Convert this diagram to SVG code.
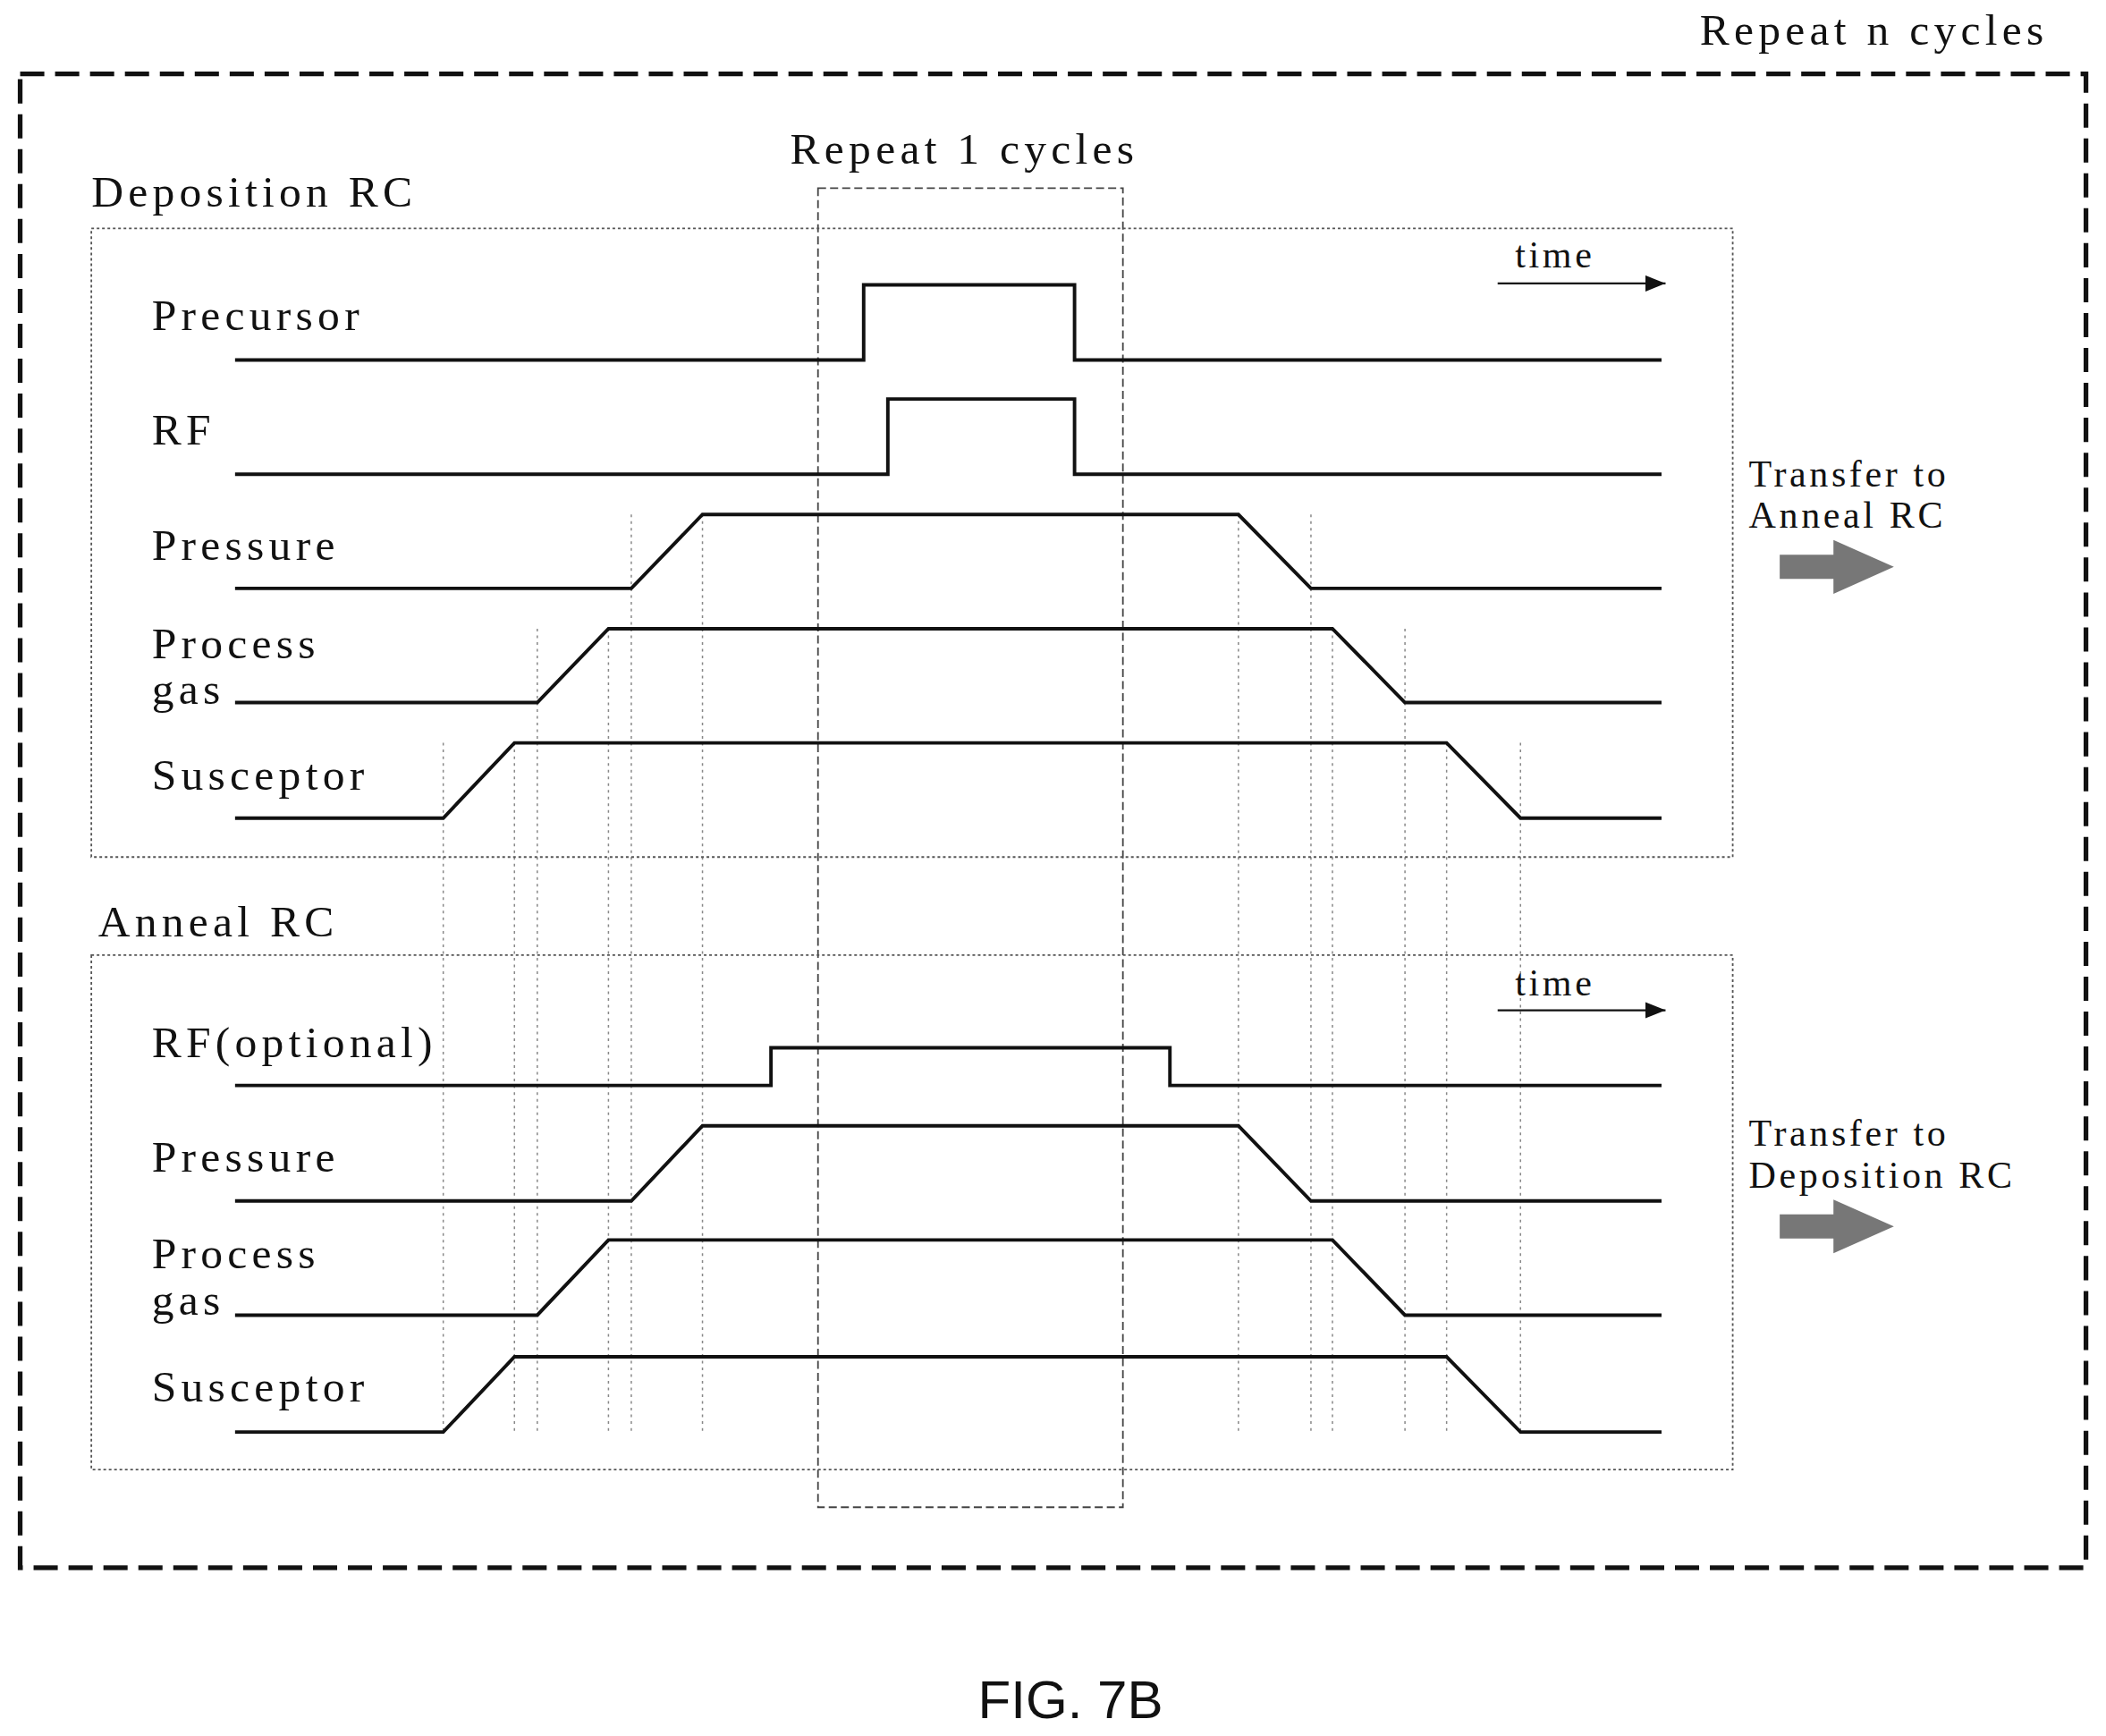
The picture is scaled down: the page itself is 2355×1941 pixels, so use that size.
<svg xmlns="http://www.w3.org/2000/svg" width="2355" height="1941" viewBox="0 0 2355 1941">
<style>
text{font-family:"Liberation Serif",serif;font-size:33px;letter-spacing:3.5px;fill:#111}
.sm{font-size:28px;letter-spacing:2.4px}
.sig{fill:none;stroke:#111;stroke-width:2.6}
.vd{stroke:#888;stroke-width:1;stroke-dasharray:2 3}
.box{fill:none;stroke:#555;stroke-width:1.2;stroke-dasharray:2 2}
</style>
<defs><marker id="ah" markerWidth="10" markerHeight="8" refX="10" refY="4" orient="auto"><path d="M0,0L10,4L0,8z" fill="#111"/></marker></defs>
<rect width="2355" height="1941" fill="#fff"/>
<g transform="scale(1.502)">
<rect x="15" y="55" width="1538" height="1112" fill="none" stroke="#111" stroke-width="3.5" stroke-dasharray="18 8"/>
<text x="1525" y="33" text-anchor="end">Repeat n cycles</text>
<g id="repeat1"><rect x="609" y="140" width="227" height="982" fill="none" stroke="#444" stroke-width="1.2" stroke-dasharray="6 3"/><text x="718" y="122" text-anchor="middle">Repeat 1 cycles</text></g>
<g id="guides">
<line class="vd" x1="330" y1="553" x2="330" y2="1066"/><line class="vd" x1="383" y1="553" x2="383" y2="1066"/>
<line class="vd" x1="400" y1="468" x2="400" y2="1066"/><line class="vd" x1="453" y1="468" x2="453" y2="1066"/>
<line class="vd" x1="470" y1="383" x2="470" y2="1066"/><line class="vd" x1="523" y1="383" x2="523" y2="1066"/>
<line class="vd" x1="922" y1="383" x2="922" y2="1066"/><line class="vd" x1="976" y1="383" x2="976" y2="1066"/>
<line class="vd" x1="992" y1="468" x2="992" y2="1066"/><line class="vd" x1="1046" y1="468" x2="1046" y2="1066"/>
<line class="vd" x1="1077" y1="553" x2="1077" y2="1066"/><line class="vd" x1="1132" y1="553" x2="1132" y2="1066"/>
</g>
<g id="deposition">
<text x="68" y="154">Deposition RC</text>
<rect class="box" x="68" y="170" width="1222" height="468"/>
<text class="sm" x="1128" y="199">time</text>
<line x1="1115" y1="211" x2="1240" y2="211" stroke="#111" stroke-width="1.5" marker-end="url(#ah)"/>
<text x="113" y="246">Precursor</text>
<polyline class="sig" points="175,268 643,268 643,212 800,212 800,268 1237,268"/>
<text x="113" y="331">RF</text>
<polyline class="sig" points="175,353 661,353 661,297 800,297 800,353 1237,353"/>
<text x="113" y="417">Pressure</text>
<polyline class="sig" points="175,438 470,438 523,383 922,383 976,438 1237,438"/>
<text x="113" y="490">Process</text><text x="113" y="524">gas</text>
<polyline class="sig" points="175,523 400,523 453,468 992,468 1046,523 1237,523"/>
<text x="113" y="588">Susceptor</text>
<polyline class="sig" points="175,609 330,609 383,553 1077,553 1132,609 1237,609"/>
<text class="sm" x="1302" y="362">Transfer to</text><text class="sm" x="1302" y="393">Anneal RC</text>
<path d="M1325,413H1365V402L1410,422L1365,442V431H1325z" fill="#777"/>
</g>
<g id="anneal">
<text x="73" y="697">Anneal RC</text>
<rect class="box" x="68" y="711" width="1222" height="383"/>
<text class="sm" x="1128" y="741">time</text>
<line x1="1115" y1="752" x2="1240" y2="752" stroke="#111" stroke-width="1.5" marker-end="url(#ah)"/>
<text x="113" y="787">RF(optional)</text>
<polyline class="sig" points="175,808 574,808 574,780 871,780 871,808 1237,808"/>
<text x="113" y="872">Pressure</text>
<polyline class="sig" points="175,894 470,894 523,838 922,838 976,894 1237,894"/>
<text x="113" y="944">Process</text><text x="113" y="979">gas</text>
<polyline class="sig" points="175,979 400,979 453,923 992,923 1046,979 1237,979"/>
<text x="113" y="1043">Susceptor</text>
<polyline class="sig" points="175,1066 330,1066 383,1010 1077,1010 1132,1066 1237,1066"/>
<text class="sm" x="1302" y="853">Transfer to</text><text class="sm" x="1302" y="884">Deposition RC</text>
<path d="M1325,904H1365V893L1410,913L1365,933V922H1325z" fill="#777"/>
</g>
<text x="797" y="1279" text-anchor="middle" style="font-family:'Liberation Sans',sans-serif;font-size:40px;letter-spacing:0">FIG. 7B</text>
</g>
</svg>
